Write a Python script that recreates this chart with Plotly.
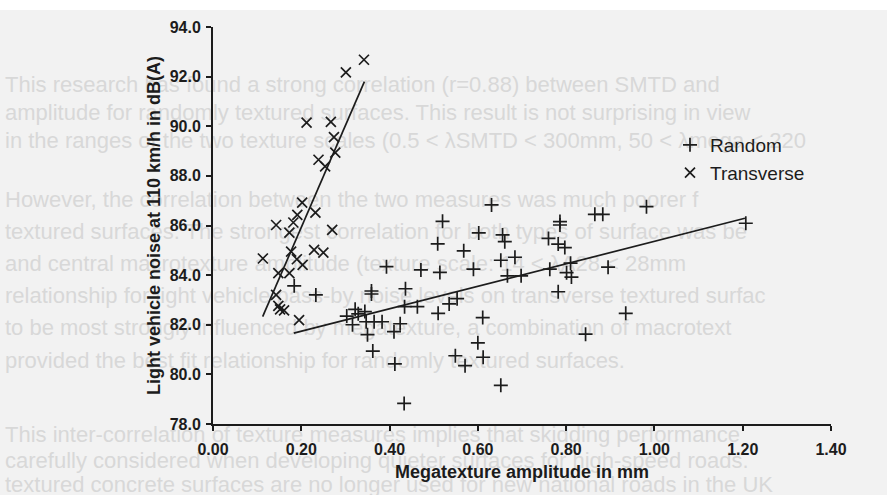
import plotly.graph_objects as go

# ---------------- data ----------------
random_x = [0.184, 0.233, 0.303, 0.322, 0.329, 0.344, 0.316, 0.347, 0.365, 0.383,
            0.350, 0.362, 0.359, 0.359, 0.393, 0.410, 0.424, 0.412, 0.433, 0.436,
            0.434, 0.463, 0.471, 0.509, 0.520, 0.514, 0.510, 0.535, 0.553, 0.549,
            0.568, 0.571, 0.590, 0.602, 0.600, 0.611, 0.612, 0.631, 0.652, 0.656,
            0.661, 0.652, 0.667, 0.684, 0.698, 0.760, 0.763, 0.782, 0.797, 0.786,
            0.786, 0.782, 0.810, 0.801, 0.812, 0.844, 0.865, 0.883, 0.895, 0.935,
            0.982, 1.207]
random_y = [83.57, 83.20, 82.35, 82.62, 82.44, 82.53, 82.00, 82.12, 82.12, 82.12,
            81.60, 80.94, 83.36, 83.24, 84.34, 81.72, 82.04, 80.42, 78.83, 83.45,
            82.73, 82.73, 84.21, 85.26, 86.17, 84.11, 82.46, 82.84, 83.05, 80.75,
            84.98, 80.35, 84.24, 85.70, 81.27, 82.29, 80.69, 86.83, 84.60, 85.62,
            85.35, 79.56, 83.97, 84.72, 83.97, 85.48, 84.24, 85.25, 85.11, 86.16,
            86.02, 83.33, 84.48, 84.10, 83.92, 81.62, 86.45, 86.45, 84.32, 82.46,
            86.76, 86.09]

transverse_x = [0.342, 0.301, 0.212, 0.267, 0.274, 0.277, 0.239, 0.254, 0.202, 0.191,
                0.232, 0.182, 0.143, 0.173, 0.270, 0.177, 0.229, 0.250, 0.113, 0.190,
                0.203, 0.148, 0.173, 0.143, 0.148, 0.152, 0.161, 0.195]
transverse_y = [92.68, 92.17, 90.15, 90.18, 89.56, 88.94, 88.65, 88.38, 86.92, 86.43,
                86.52, 86.12, 86.02, 85.71, 85.82, 84.95, 85.02, 84.91, 84.67, 84.64,
                84.41, 84.08, 84.08, 83.20, 82.76, 82.62, 82.58, 82.19]

# fitted lines (end points)
random_fit_x = [0.183, 1.205]
random_fit_y = [81.66, 86.29]
transverse_fit_x = [0.1125, 0.343]
transverse_fit_y = [82.33, 91.80]

x_tick_vals = [0.0, 0.2, 0.4, 0.6, 0.8, 1.0, 1.2, 1.4]
x_tick_text = ["0.00", "0.20", "0.40", "0.60", "0.80", "1.00", "1.20", "1.40"]
y_tick_vals = [78, 80, 82, 84, 86, 88, 90, 92, 94]
y_tick_text = ["78.0", "80.0", "82.0", "84.0", "86.0", "88.0", "90.0", "92.0", "94.0"]

# faded page text showing through the scan
page_lines = [
    "This research has found a strong correlation (r=0.88) between SMTD and",
    "amplitude for randomly textured surfaces. This result is not surprising in view",
    "in the ranges of the two texture scales (0.5 < λSMTD < 300mm, 50 < λmega < 220",
    "However, the correlation between the two measures was much poorer f",
    "textured surfaces. The strongest correlation for both types of surface was be",
    "and central macrotexture amplitude (texture scale: 14 < λA28 < 28mm",
    "relationship for light vehicle pass-by noise levels on transverse textured surfac",
    "to be most strongly influenced by megatexture, a combination of macrotext",
    "provided the best fit relationship for randomly textured surfaces.",
    "This inter-correlation of texture measures implies that skidding performance",
    "carefully considered when developing quieter surfaces for high-speed roads.",
    "textured concrete surfaces are no longer used for new national roads in the UK",
]
page_line_px = [82, 110, 138, 197, 229, 261, 293, 325, 358, 432, 458, 482]

# ---------------- layout geometry ----------------
W, H = 887, 495
ML, MR, MT, MB = 213, 56, 27, 71
pw, ph = W - ML - MR, H - MT - MB

INK = "#1c1c1c"
FONT = "Liberation Sans, Arial, sans-serif"
FADE = "#d8d8d8"

fig = go.Figure()

fig.add_trace(go.Scatter(
    x=random_fit_x, y=random_fit_y, mode="lines",
    line=dict(color=INK, width=1.7), showlegend=False, hoverinfo="skip",
))
fig.add_trace(go.Scatter(
    x=transverse_fit_x, y=transverse_fit_y, mode="lines",
    line=dict(color=INK, width=1.7), showlegend=False, hoverinfo="skip",
))
fig.add_trace(go.Scatter(
    x=random_x, y=random_y, mode="markers", name="Random",
    marker=dict(symbol="cross-thin-open", size=10, color=INK,
                line=dict(color=INK, width=1.7)),
))
fig.add_trace(go.Scatter(
    x=transverse_x, y=transverse_y, mode="markers", name="Transverse",
    marker=dict(symbol="x-thin-open", size=10, color=INK,
                line=dict(color=INK, width=1.7)),
))

# background page text as labels of invisible shapes drawn below the data
shapes = [dict(type="rect", xref="paper", yref="paper", layer="below",
               x0=-ML / pw, x1=1 + MR / pw, y0=1 + (MT - 10) / ph, y1=1 + MT / ph,
               fillcolor="#ffffff", line=dict(width=0))]
for txt, py in zip(page_lines, page_line_px):
    yc = 1 - (py - MT) / ph
    shapes.append(dict(
        type="rect", xref="paper", yref="paper", layer="below",
        x0=(0 - ML) / pw, x1=(W - ML) / pw, y0=yc - 10 / ph, y1=yc + 10 / ph,
        fillcolor="rgba(0,0,0,0)", line=dict(width=0, color="rgba(0,0,0,0)"),
        label=dict(text=txt, textposition="middle left", padding=2,
                   font=dict(family=FONT, size=22, color=FADE)),
    ))

axis_common = dict(
    showgrid=False, zeroline=False, showline=True, linecolor=INK, linewidth=2,
    ticks="outside", ticklen=5, tickwidth=2, tickcolor=INK,
    tickfont=dict(family=FONT, size=16, color=INK, weight="bold"),
)

fig.update_layout(
    width=W, height=H,
    margin=dict(l=ML, r=MR, t=MT, b=MB, autoexpand=False),
    paper_bgcolor="#f2f2f2", plot_bgcolor="rgba(0,0,0,0)",
    font=dict(family=FONT, color=INK),
    xaxis=dict(range=[0.0, 1.4], tickvals=x_tick_vals, ticktext=x_tick_text,
               ticklabelstandoff=5,
               title=dict(text="Megatexture amplitude in mm", standoff=8,
                          font=dict(family=FONT, size=18, color=INK, weight="bold")),
               **axis_common),
    yaxis=dict(range=[78.0, 94.0], tickvals=y_tick_vals, ticktext=y_tick_text,
               ticklabelstandoff=2,
               title=dict(text="Light vehicle noise at 110 km/h in dB(A)", standoff=4,
                          font=dict(family=FONT, size=18, color=INK, weight="bold")),
               **axis_common),
    legend=dict(x=(670 - ML) / pw, y=1 - (126 - MT) / ph, xanchor="left", yanchor="top",
                bgcolor="rgba(0,0,0,0)", font=dict(family=FONT, size=19, color=INK),
                itemwidth=30, tracegroupgap=0),
    shapes=shapes,
    showlegend=True,
)

fig.write_html("out.html", post_script="document.body.style.margin='0';",
               config={"displayModeBar": False})
